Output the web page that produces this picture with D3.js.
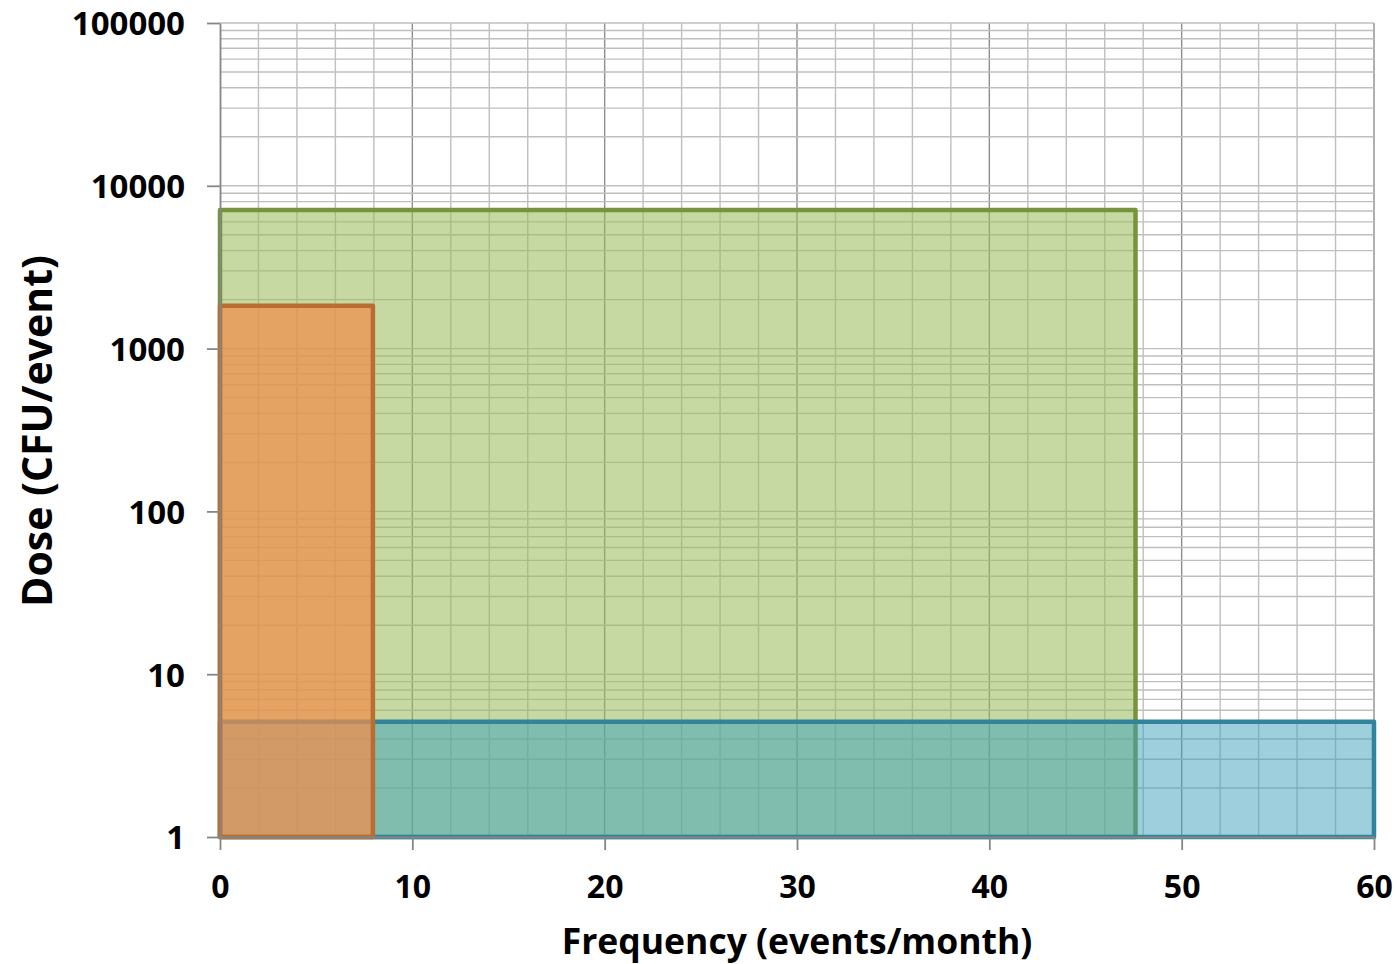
<!DOCTYPE html>
<html><head><meta charset="utf-8">
<script src="https://cdn.jsdelivr.net/npm/d3@7"></script>
<style>
html,body{margin:0;padding:0;background:#fff;}
text{font-family:"Open Sans",sans-serif;font-weight:bold;fill:#000;}
</style></head>
<body><svg id="c" width="1397" height="964"></svg>
<script>
// Data
const regions = ["Green", "Blue", "Orange"];
const freqMin = [0, 0, 0];
const freqMax = [47.6, 60, 7.95];
const doseMin = [1, 1, 1];
const doseMax = [7100, 5.1, 1830];
const xTicks = [0, 10, 20, 30, 40, 50, 60];
const yTicks = [1, 10, 100, 1000, 10000, 100000];
const xTitle = "Frequency (events/month)";
const yTitle = "Dose (CFU/event)";

const fills = ["rgba(155,187,89,0.56)", "rgba(59,161,185,0.5)", "rgba(240,140,75,0.72)"];
const strokes = ["#77933c", "#31849b", "#b96d31"];

const svg = d3.select("#c");
const x = d3.scaleLinear().domain([0, 60]).range([220, 1374]);
const y = d3.scaleLog().domain([1, 100000]).range([837, 23]);

// gridlines
const g = svg.append("g");
const minorX = d3.range(2, 61, 2);
g.selectAll(".vx").data(minorX).enter().append("line")
  .attr("x1", d => x(d)).attr("x2", d => x(d))
  .attr("y1", y(100000)).attr("y2", y(1))
  .attr("stroke", d => d % 10 === 0 ? "#8e8e8e" : "#bfbfbf")
  .attr("stroke-width", 1.4);
const hy = [];
for (let dec = 1; dec < 100000; dec *= 10) for (let k = 2; k <= 10; k++) hy.push(dec * k);
g.selectAll(".hy").data(hy).enter().append("line")
  .attr("x1", x(0)).attr("x2", x(60))
  .attr("y1", d => y(d)).attr("y2", d => y(d))
  .attr("stroke", "#bfbfbf").attr("stroke-width", 1.4);

// rectangles
const idx = d3.range(regions.length);
svg.append("g").selectAll("rect").data(idx).enter().append("rect")
  .attr("x", i => x(freqMin[i]))
  .attr("y", i => y(doseMax[i]))
  .attr("width", i => x(freqMax[i]) - x(freqMin[i]))
  .attr("height", i => y(doseMin[i]) - y(doseMax[i]))
  .attr("fill", i => fills[i])
  .attr("stroke", i => strokes[i])
  .attr("stroke-width", 4.5)
  .attr("stroke-linejoin", "round");

// axes
const ax = svg.append("g").attr("transform", `translate(0,${y(1)})`)
  .call(d3.axisBottom(x).tickValues(xTicks).tickSize(13).tickSizeOuter(0));
ax.select(".domain").attr("stroke", "#868686").attr("stroke-width", 1.8);
ax.selectAll(".tick line").attr("stroke", "#868686").attr("stroke-width", 1.8);
ax.selectAll(".tick text").style("font-size", "32px").attr("fill", "#000").attr("dy", "0.71em").attr("y", 38);

const ay = svg.append("g").attr("transform", `translate(${x(0)},0)`)
  .call(d3.axisLeft(y).tickValues(yTicks).tickFormat(d3.format("d")).tickSize(13).tickSizeOuter(0).tickPadding(22));
ay.select(".domain").attr("stroke", "#868686").attr("stroke-width", 1.8);
ay.selectAll(".tick line").attr("stroke", "#868686").attr("stroke-width", 1.8);
ay.selectAll(".tick text").style("font-size", "33px").attr("fill", "#000").attr("dy", "0.36em");

// titles
svg.append("text").attr("x", 797).attr("y", 954).attr("text-anchor", "middle")
  .style("font-size", "35.5px").text(xTitle);
svg.append("text").attr("transform", "translate(52,431) rotate(-90)").attr("text-anchor", "middle")
  .style("font-size", "41px").text(yTitle);
</script></body></html>
